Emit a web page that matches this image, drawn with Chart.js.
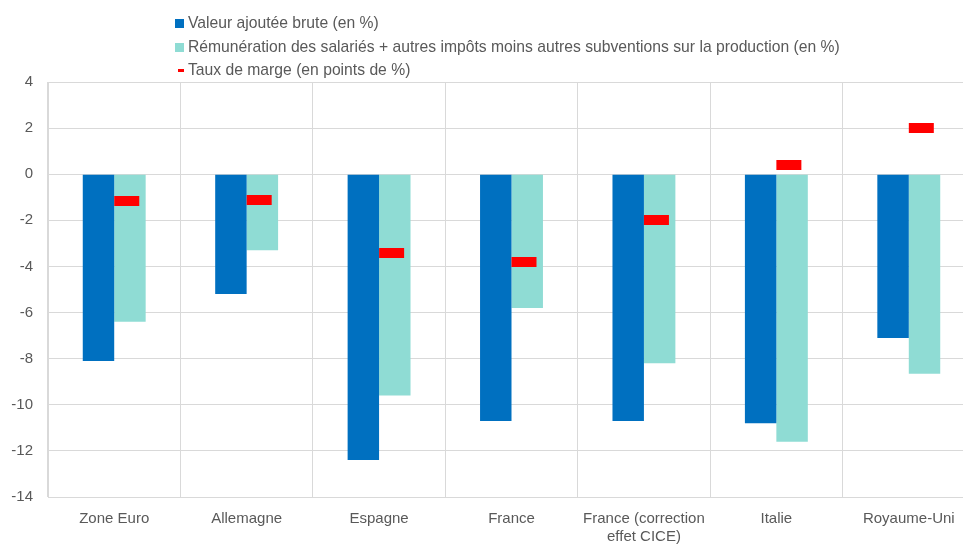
<!DOCTYPE html>
<html>
<head>
<meta charset="utf-8">
<script src="https://cdn.jsdelivr.net/npm/chart.js@4/dist/chart.umd.min.js"></script>
<style>
  html, body { margin: 0; padding: 0; background: #fff; overflow: hidden; }
  #wrap { position: relative; width: 963px; height: 546px; overflow: hidden; }
  #legend { position: absolute; left: 175px; top: 11px; font: 15.7px "Liberation Sans", Arial, sans-serif; color: #595959; }
  #legend div { height: 23.5px; line-height: 23.5px; white-space: nowrap; }
  #legend span.box { display: inline-block; width: 9px; height: 9px; margin-right: 4px; vertical-align: 0px; }
  #legend span.dash { display: inline-block; width: 6px; height: 3px; margin: 0 4px 0 3px; vertical-align: 3px; }
</style>
</head>
<body>
<div id="wrap">
  <canvas id="margeChart" width="980" height="546"></canvas>
  <div id="legend"></div>
</div>
<script>
const categories = ["Zone Euro", "Allemagne", "Espagne", "France", ["France (correction", "effet CICE)"], "Italie", "Royaume-Uni"];
const valeurAjoutee = [-8.1, -5.2, -12.4, -10.7, -10.7, -10.8, -7.1];
const remuneration = [-6.4, -3.3, -9.6, -5.8, -8.2, -11.6, -8.65];
const tauxMarge = [-1.15, -1.1, -3.4, -3.8, -2.0, 0.4, 2.0];
const yTicks = [4, 2, 0, -2, -4, -6, -8, -10, -12, -14];

const seriesNames = [
  "Valeur ajoutée brute (en %)",
  "Rémunération des salariés + autres impôts moins autres subventions sur la production (en %)",
  "Taux de marge (en points de %)"
];
const colors = ["#0070C0", "#8FDCD4", "#FF0000"];

// red dash drawn on the right half so it starts at the category centre
const dash = document.createElement("canvas");
dash.width = 52; dash.height = 10;
const dctx = dash.getContext("2d");
dctx.fillStyle = colors[2];
dctx.fillRect(26, 0, 25, 10);

const fontFamily = '"Liberation Sans", Arial, sans-serif';
const grey = "#595959";
const gridColor = "#D9D9D9";

new Chart(document.getElementById("margeChart").getContext("2d"), {
  data: {
    labels: categories,
    datasets: [
      {
        type: "line",
        label: seriesNames[2],
        data: tauxMarge,
        showLine: false,
        pointStyle: dash,
        order: 0
      },
      {
        type: "bar",
        label: seriesNames[0],
        data: valeurAjoutee,
        backgroundColor: colors[0],
        categoryPercentage: 0.475,
        barPercentage: 1.0,
        order: 1
      },
      {
        type: "bar",
        label: seriesNames[1],
        data: remuneration,
        backgroundColor: colors[1],
        categoryPercentage: 0.475,
        barPercentage: 1.0,
        order: 1
      }
    ]
  },
  options: {
    responsive: false,
    animation: false,
    layout: { padding: { top: 82, right: 1, left: 0, bottom: 0 } },
    plugins: { legend: { display: false }, tooltip: { enabled: false } },
    scales: {
      x: {
        offset: true,
        grid: { color: gridColor, offset: true, drawTicks: false },
        border: { color: gridColor },
        ticks: { color: grey, font: { family: fontFamily, size: 15 }, padding: 13, maxRotation: 0, autoSkip: false },
        afterFit: (scale) => { scale.height = 49; }
      },
      y: {
        min: -14,
        max: 4,
        grid: { color: gridColor, drawTicks: false },
        border: { color: gridColor },
        afterBuildTicks: (scale) => { scale.ticks = yTicks.map(v => ({ value: v })); },
        ticks: { color: grey, font: { family: fontFamily, size: 15 }, padding: 15 },
        afterFit: (scale) => { scale.width = 48; }
      }
    }
  }
});

// legend, built from the series names
const legend = document.getElementById("legend");
[0, 1, 2].forEach(i => {
  const row = document.createElement("div");
  const mark = document.createElement("span");
  mark.className = i === 2 ? "dash" : "box";
  mark.style.background = colors[i];
  row.appendChild(mark);
  row.appendChild(document.createTextNode(seriesNames[i]));
  legend.appendChild(row);
});
</script>
</body>
</html>
